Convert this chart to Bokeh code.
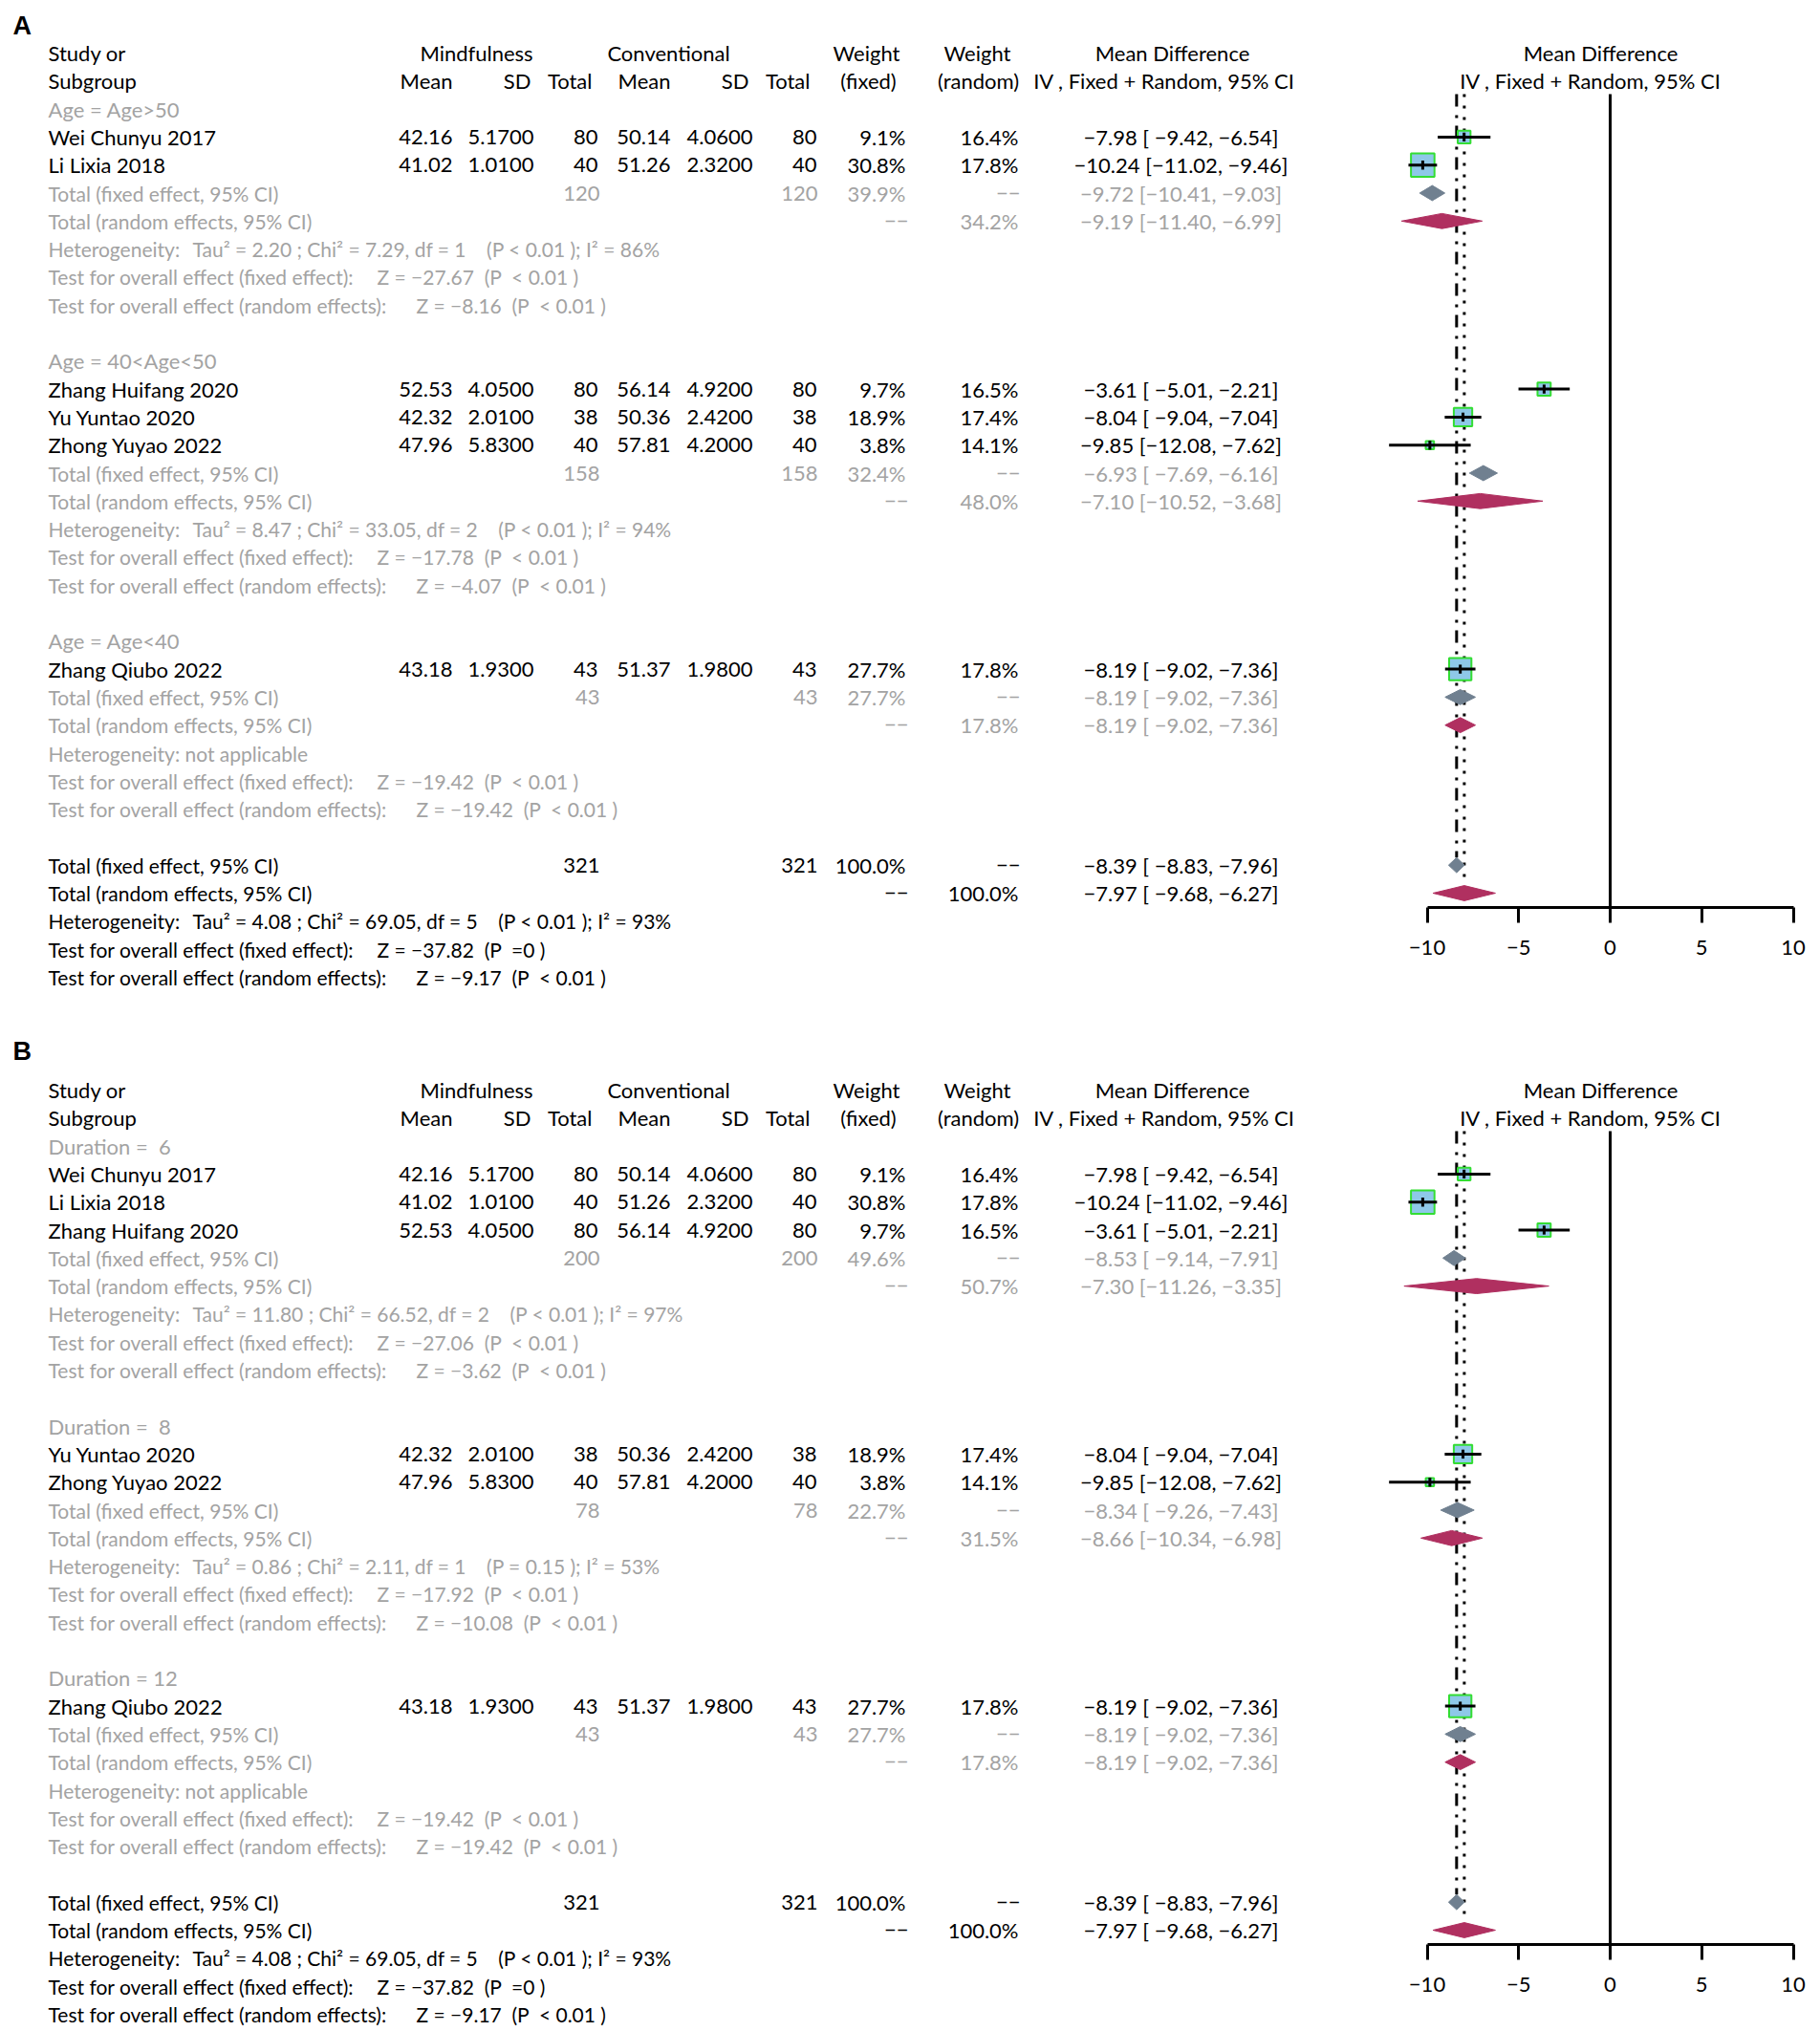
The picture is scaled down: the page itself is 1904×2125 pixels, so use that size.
import math
from bokeh.plotting import figure
from bokeh.models import Range1d, ColumnDataSource, FixedTicker, CustomJSTickFormatter
from bokeh.layouts import column, row
from bokeh.embed import file_html
from bokeh.resources import INLINE
from bokeh.core.properties import value

# ---------------- data ----------------
studies = ["Wei Chunyu 2017", "Li Lixia 2018", "Zhang Huifang 2020",
           "Yu Yuntao 2020", "Zhong Yuyao 2022", "Zhang Qiubo 2022"]
m_mean = [42.16, 41.02, 52.53, 42.32, 47.96, 43.18]
m_sd = [5.17, 1.01, 4.05, 2.01, 5.83, 1.93]
m_n = [80, 40, 80, 38, 40, 43]
c_mean = [50.14, 51.26, 56.14, 50.36, 57.81, 51.37]
c_sd = [4.06, 2.32, 4.92, 2.42, 4.20, 1.98]
c_n = [80, 40, 80, 38, 40, 43]
w_fixed = [9.1, 30.8, 9.7, 18.9, 3.8, 27.7]
w_random = [16.4, 17.8, 16.5, 17.4, 14.1, 17.8]
md = [-7.98, -10.24, -3.61, -8.04, -9.85, -8.19]
md_lo = [-9.42, -11.02, -5.01, -9.04, -12.08, -9.02]
md_hi = [-6.54, -9.46, -2.21, -7.04, -7.62, -7.36]

# Panel A: subgroups by age
age_labels = ["Age = Age>50", "Age = 40<Age<50", "Age = Age<40"]
age_members = [[0, 1], [2, 3, 4], [5]]
age_n = [120, 158, 43]
age_wfix = [39.9, 32.4, 27.7]
age_wran = [34.2, 48.0, 17.8]
age_fix = [-9.72, -6.93, -8.19]
age_fix_lo = [-10.41, -7.69, -9.02]
age_fix_hi = [-9.03, -6.16, -7.36]
age_ran = [-9.19, -7.10, -8.19]
age_ran_lo = [-11.40, -10.52, -9.02]
age_ran_hi = [-6.99, -3.68, -7.36]
age_het = ["Tau² = 2.20 ; Chi² = 7.29, df = 1    (P < 0.01 ); I² = 86%",
           "Tau² = 8.47 ; Chi² = 33.05, df = 2    (P < 0.01 ); I² = 94%",
           None]
age_zfix = ["Z = −27.67  (P  < 0.01 )", "Z = −17.78  (P  < 0.01 )", "Z = −19.42  (P  < 0.01 )"]
age_zran = ["Z = −8.16  (P  < 0.01 )", "Z = −4.07  (P  < 0.01 )", "Z = −19.42  (P  < 0.01 )"]

# Panel B: subgroups by duration
dur_labels = ["Duration =  6", "Duration =  8", "Duration = 12"]
dur_members = [[0, 1, 2], [3, 4], [5]]
dur_n = [200, 78, 43]
dur_wfix = [49.6, 22.7, 27.7]
dur_wran = [50.7, 31.5, 17.8]
dur_fix = [-8.53, -8.34, -8.19]
dur_fix_lo = [-9.14, -9.26, -9.02]
dur_fix_hi = [-7.91, -7.43, -7.36]
dur_ran = [-7.30, -8.66, -8.19]
dur_ran_lo = [-11.26, -10.34, -9.02]
dur_ran_hi = [-3.35, -6.98, -7.36]
dur_het = ["Tau² = 11.80 ; Chi² = 66.52, df = 2    (P < 0.01 ); I² = 97%",
           "Tau² = 0.86 ; Chi² = 2.11, df = 1    (P = 0.15 ); I² = 53%",
           None]
dur_zfix = ["Z = −27.06  (P  < 0.01 )", "Z = −17.92  (P  < 0.01 )", "Z = −19.42  (P  < 0.01 )"]
dur_zran = ["Z = −3.62  (P  < 0.01 )", "Z = −10.08  (P  < 0.01 )", "Z = −19.42  (P  < 0.01 )"]

# Overall
tot_n = 321
tot_fix, tot_fix_lo, tot_fix_hi = -8.39, -8.83, -7.96
tot_ran, tot_ran_lo, tot_ran_hi = -7.97, -9.68, -6.27
tot_het = "Tau² = 4.08 ; Chi² = 69.05, df = 5    (P < 0.01 ); I² = 93%"
tot_zfix = "Z = −37.82  (P  =0 )"
tot_zran = "Z = −9.17  (P  < 0.01 )"

x_ticks = [-10, -5, 0, 5, 10]

# ---------------- styles / layout ----------------
FONT = "Lato"
FS = "22px"        # headers and numbers
FS_L = "21px"      # long left-column labels
BLACK = "#000000"
GREY = "#a3a3a3"
SQ_FILL = "#8ec8e8"
SQ_LINE = "#33dd33"
FIX_COL = "#708090"
RAN_COL = "#b03060"

ROW_PX = 29.3
LEFT_W, RIGHT_W = 1420, 484
PX0 = 1420            # page x where right figure starts
ZERO_PX = 1684        # page x of MD = 0
PX_PER = 19.15        # px per MD unit
AXIS_ROW = 30.5

# column anchors (page x)
X_STUDY = 50
X_MMEAN, X_MSD, X_MN = 473, 558, 625
X_CMEAN, X_CSD, X_CN = 701, 787, 854
X_WFIX, X_WRAN, X_MD = 947, 1065, 1235

NBSP = "\u00a0"


def num(v, d):
    s = f"{abs(v):.{d}f}"
    return ("−" + s) if v < 0 else s


def md_text(e, lo, hi):
    lo_s = num(lo, 2)
    pad = " " if len(lo_s) < 6 else ""
    return f"{num(e, 2)} [{pad}{lo_s}, {num(hi, 2)}]"


def pct(v):
    return f"{v:.1f}%"


def build_panel(labels, members, sub_n, sub_wfix, sub_wran,
                sfix, sfix_lo, sfix_hi, sran, sran_lo, sran_hi,
                het, zfix, zran):
    T = []   # (x, row, text, color, align, size)
    S = []   # study marks: (row, idx)
    D = []   # diamonds: (row, est, lo, hi, kind)
    T += [(X_STUDY, 0, "Study or", BLACK, "left", FS),
          (498, 0, "Mindfulness", BLACK, "center", FS),
          (699, 0, "Conventional", BLACK, "center", FS),
          (906, 0, "Weight", BLACK, "center", FS),
          (1022, 0, "Weight", BLACK, "center", FS),
          (1226, 0, "Mean Difference", BLACK, "center", FS),
          (X_STUDY, 1, "Subgroup", BLACK, "left", FS),
          (X_MMEAN, 1, "Mean", BLACK, "right", FS),
          (555, 1, "SD", BLACK, "right", FS),
          (619, 1, "Total", BLACK, "right", FS),
          (X_CMEAN, 1, "Mean", BLACK, "right", FS),
          (783, 1, "SD", BLACK, "right", FS),
          (847, 1, "Total", BLACK, "right", FS),
          (908, 1, "(fixed)", BLACK, "center", FS),
          (1023, 1, "(random)", BLACK, "center", FS),
          (1217, 1, "IV , Fixed + Random, 95% CI", BLACK, "center", FS)]
    r = 2
    for g, lab in enumerate(labels):
        T.append((X_STUDY, r, lab, GREY, "left", FS))
        r += 1
        for i in members[g]:
            T += [(X_STUDY, r, studies[i], BLACK, "left", FS),
                  (X_MMEAN, r, f"{m_mean[i]:.2f}", BLACK, "right", FS),
                  (X_MSD, r, f"{m_sd[i]:.4f}", BLACK, "right", FS),
                  (X_MN, r, str(m_n[i]), BLACK, "right", FS),
                  (X_CMEAN, r, f"{c_mean[i]:.2f}", BLACK, "right", FS),
                  (X_CSD, r, f"{c_sd[i]:.4f}", BLACK, "right", FS),
                  (X_CN, r, str(c_n[i]), BLACK, "right", FS),
                  (X_WFIX, r, pct(w_fixed[i]), BLACK, "right", FS),
                  (X_WRAN, r, pct(w_random[i]), BLACK, "right", FS),
                  (X_MD, r, md_text(md[i], md_lo[i], md_hi[i]), BLACK, "center", FS)]
            S.append((r, i))
            r += 1
        T += [(X_STUDY, r, "Total (fixed effect, 95% CI)", GREY, "left", FS_L),
              (X_MN + 2, r, str(sub_n[g]), GREY, "right", FS),
              (X_CN + 1, r, str(sub_n[g]), GREY, "right", FS),
              (X_WFIX, r, pct(sub_wfix[g]), GREY, "right", FS),
              (X_WRAN + 2, r, "−−", GREY, "right", FS),
              (X_MD, r, md_text(sfix[g], sfix_lo[g], sfix_hi[g]), GREY, "center", FS)]
        D.append((r, sfix[g], sfix_lo[g], sfix_hi[g], "fixed"))
        r += 1
        T += [(X_STUDY, r, "Total (random effects, 95% CI)", GREY, "left", FS_L),
              (X_WFIX + 3, r, "−−", GREY, "right", FS),
              (X_WRAN, r, pct(sub_wran[g]), GREY, "right", FS),
              (X_MD, r, md_text(sran[g], sran_lo[g], sran_hi[g]), GREY, "center", FS)]
        D.append((r, sran[g], sran_lo[g], sran_hi[g], "random"))
        r += 1
        if het[g] is None:
            T.append((X_STUDY, r, "Heterogeneity: not applicable", GREY, "left", FS_L))
        else:
            T += [(X_STUDY, r, "Heterogeneity:", GREY, "left", FS_L),
                  (201, r, het[g], GREY, "left", FS_L)]
        r += 1
        T += [(X_STUDY, r, "Test for overall effect (fixed effect):", GREY, "left", FS_L),
              (394, r, zfix[g], GREY, "left", FS_L)]
        r += 1
        T += [(X_STUDY, r, "Test for overall effect (random effects):", GREY, "left", FS_L),
              (435, r, zran[g], GREY, "left", FS_L)]
        r += 2
    # overall
    T += [(X_STUDY, r, "Total (fixed effect, 95% CI)", BLACK, "left", FS_L),
          (X_MN + 2, r, str(tot_n), BLACK, "right", FS),
          (X_CN + 1, r, str(tot_n), BLACK, "right", FS),
          (X_WFIX, r, pct(100.0), BLACK, "right", FS),
          (X_WRAN + 2, r, "−−", BLACK, "right", FS),
          (X_MD, r, md_text(tot_fix, tot_fix_lo, tot_fix_hi), BLACK, "center", FS)]
    D.append((r, tot_fix, tot_fix_lo, tot_fix_hi, "fixed"))
    fix_row = r
    r += 1
    T += [(X_STUDY, r, "Total (random effects, 95% CI)", BLACK, "left", FS_L),
          (X_WFIX + 3, r, "−−", BLACK, "right", FS),
          (X_WRAN, r, pct(100.0), BLACK, "right", FS),
          (X_MD, r, md_text(tot_ran, tot_ran_lo, tot_ran_hi), BLACK, "center", FS)]
    D.append((r, tot_ran, tot_ran_lo, tot_ran_hi, "random"))
    ran_row = r
    r += 1
    T += [(X_STUDY, r, "Heterogeneity:", BLACK, "left", FS_L),
          (201, r, tot_het, BLACK, "left", FS_L)]
    r += 1
    T += [(X_STUDY, r, "Test for overall effect (fixed effect):", BLACK, "left", FS_L),
          (394, r, tot_zfix, BLACK, "left", FS_L)]
    r += 1
    T += [(X_STUDY, r, "Test for overall effect (random effects):", BLACK, "left", FS_L),
          (435, r, tot_zran, BLACK, "left", FS_L)]
    return T, S, D, fix_row, ran_row


def add_texts(p, items, xconv=lambda v: v):
    keys = sorted(set((it[4], it[5]) for it in items))
    for align, size in keys:
        sub = [it for it in items if it[4] == align and it[5] == size]
        src = ColumnDataSource(dict(x=[xconv(s[0]) for s in sub], y=[s[1] for s in sub],
                                    text=[s[2].replace(" ", NBSP) for s in sub],
                                    color=[s[3] for s in sub]))
        p.text(x="x", y="y", text="text", source=src, text_color="color",
               text_align=align, text_baseline="middle",
               text_font=value(FONT), text_font_size=size)


def px2md(px):
    return (px - ZERO_PX) / PX_PER


def make_panel(letter, letter_row, height, top_off, panel_args):
    T, S, D, fix_row, ran_row = build_panel(*panel_args)
    y_top = -top_off / ROW_PX
    # ---- left (table) figure ----
    left = figure(width=LEFT_W, height=height, output_backend="svg", toolbar_location=None,
                  x_range=Range1d(0, PX0), y_range=Range1d(y_top + height / ROW_PX, y_top),
                  x_axis_type=None, y_axis_type=None, frame_align=False,
                  min_border=0, min_border_left=0, min_border_right=0,
                  min_border_top=0, min_border_bottom=0)
    left.outline_line_color = None
    left.grid.visible = False
    left.background_fill_color = "white"
    left.border_fill_color = "white"
    add_texts(left, T)
    left.text(x=[13], y=[letter_row], text=[letter], text_align="left", text_baseline="middle",
              text_font=value("Liberation Sans"), text_font_style="bold",
              text_font_size="27px", text_color=BLACK)

    # ---- right (forest) figure ----
    frame_h = round((AXIS_ROW - y_top) * ROW_PX)
    right = figure(width=RIGHT_W, height=height, output_backend="svg", toolbar_location=None,
                   x_range=Range1d(px2md(PX0), px2md(PX0 + RIGHT_W)),
                   y_range=Range1d(y_top + frame_h / ROW_PX, y_top),
                   y_axis_type=None, frame_align=False,
                   min_border=0, min_border_left=0, min_border_right=0,
                   min_border_top=0, min_border_bottom=height - frame_h)
    right.outline_line_color = None
    right.grid.visible = False
    right.background_fill_color = "white"
    right.border_fill_color = "white"
    ax = right.xaxis[0]
    ax.ticker = FixedTicker(ticks=x_ticks)
    ax.bounds = (x_ticks[0], x_ticks[-1])
    ax.formatter = CustomJSTickFormatter(code="return tick < 0 ? '\\u2212' + Math.abs(tick) : String(tick);")
    ax.axis_line_width = 3
    ax.axis_line_color = BLACK
    ax.major_tick_line_width = 3
    ax.major_tick_line_color = BLACK
    ax.major_tick_in = 0
    ax.major_tick_out = 16
    ax.minor_tick_line_color = None
    ax.major_label_text_font = FONT
    ax.major_label_text_font_size = FS
    ax.major_label_text_color = BLACK
    ax.major_label_standoff = 18

    # header of forest column
    add_texts(right, [(1674, 0, "Mean Difference", BLACK, "center", FS),
                      (1663, 1, "IV , Fixed + Random, 95% CI", BLACK, "center", FS)], xconv=px2md)

    line_top = 1.47
    # reference lines
    right.segment(x0=[0], x1=[0], y0=[line_top], y1=[AXIS_ROW], line_color=BLACK, line_width=3)
    right.segment(x0=[tot_fix], x1=[tot_fix], y0=[line_top], y1=[fix_row - 0.27],
                  line_color=BLACK, line_width=3, line_dash="13 9 3 8")
    right.segment(x0=[tot_ran], x1=[tot_ran], y0=[line_top], y1=[ran_row - 0.27],
                  line_color=BLACK, line_width=3, line_dash="3 9")

    # study squares and CIs
    rows_s = [s[0] for s in S]
    idx = [s[1] for s in S]
    src = ColumnDataSource(dict(
        y=rows_s, est=[md[i] for i in idx], lo=[md_lo[i] for i in idx], hi=[md_hi[i] for i in idx],
        size=[4.43 * math.sqrt(w_fixed[i]) for i in idx],
        t0=[r - 0.16 for r in rows_s], t1=[r + 0.16 for r in rows_s]))
    right.scatter(x="est", y="y", size="size", marker="square", source=src,
                  fill_color=SQ_FILL, line_color=SQ_LINE, line_width=2)
    right.segment(x0="lo", x1="hi", y0="y", y1="y", source=src, line_color=BLACK, line_width=3)
    right.segment(x0="est", x1="est", y0="t0", y1="t1", source=src, line_color=BLACK, line_width=3)

    # diamonds
    h = 0.27
    for kind, col in (("fixed", FIX_COL), ("random", RAN_COL)):
        dd = [d for d in D if d[4] == kind]
        xs = [[d[2], d[1], d[3], d[1]] for d in dd]
        ys = [[d[0], d[0] - h, d[0], d[0] + h] for d in dd]
        right.patches(xs=xs, ys=ys, fill_color=col, line_color=col, line_width=1)

    return row(left, right)


H_A, H_B = 1083, 1042
panelA = make_panel("A", -0.97, H_A, 55,
                    (age_labels, age_members, age_n, age_wfix, age_wran,
                     age_fix, age_fix_lo, age_fix_hi, age_ran, age_ran_lo, age_ran_hi,
                     age_het, age_zfix, age_zran))
panelB = make_panel("B", -1.37, H_B, 57,
                    (dur_labels, dur_members, dur_n, dur_wfix, dur_wran,
                     dur_fix, dur_fix_lo, dur_fix_hi, dur_ran, dur_ran_lo, dur_ran_hi,
                     dur_het, dur_zfix, dur_zran))

p = column(panelA, panelB)
open("out.html", "w").write(file_html(p, INLINE))
